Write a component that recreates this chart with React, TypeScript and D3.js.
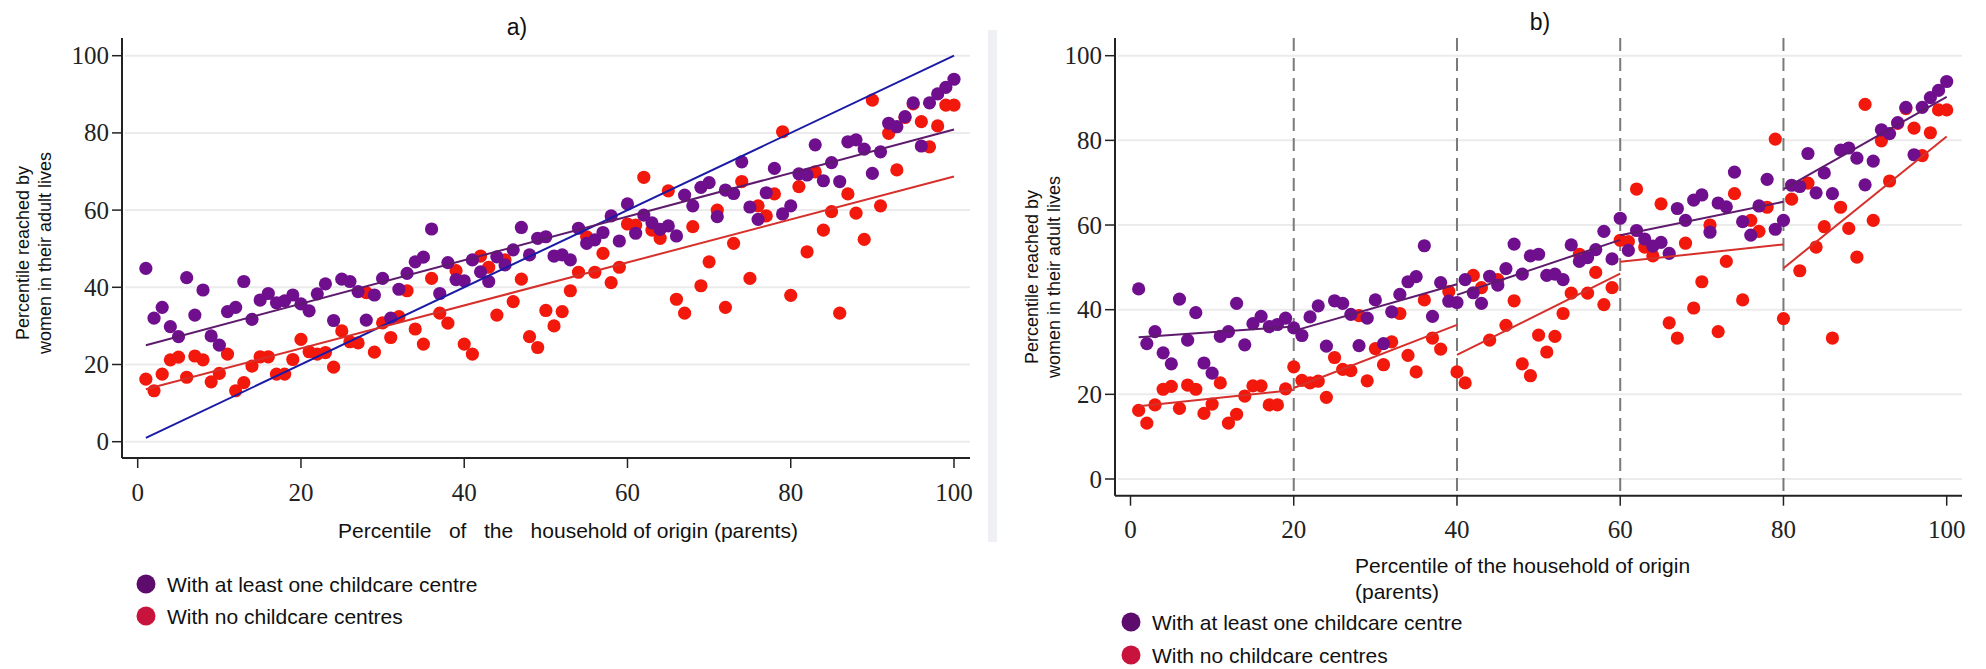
import React from 'react';
import * as d3 from 'd3';

// percentile of household of origin: 1..100
const percentiles = d3.range(1, 101);

// percentile reached, women from municipalities with at least one childcare centre
const withCentre = [
  44.9, 32.0, 34.8, 29.8, 27.2, 42.5, 32.8, 39.3, 27.4, 25.0,
  33.7, 34.8, 41.5, 31.7, 36.7, 38.4, 36.0, 36.5, 38.0, 35.7,
  33.9, 38.3, 40.9, 31.4, 42.1, 41.5, 38.9, 31.5, 38.0, 42.3,
  32.0, 39.5, 43.6, 46.6, 47.8, 55.1, 38.4, 46.4, 42.0, 41.7,
  47.1, 44.0, 41.5, 47.9, 45.8, 49.7, 55.5, 48.4, 52.7, 53.1,
  48.1, 48.4, 47.1, 55.3, 51.4, 52.3, 54.2, 58.5, 52.0, 61.6,
  54.0, 58.7, 56.7, 55.0, 55.9, 53.3, 63.9, 61.1, 65.9, 67.1,
  58.3, 65.2, 64.3, 72.5, 60.8, 57.6, 64.5, 70.8, 59.0, 61.1,
  69.4, 69.1, 76.9, 67.6, 72.3, 67.4, 77.7, 78.2, 75.8, 69.5,
  75.1, 82.5, 81.6, 84.2, 87.8, 76.6, 87.8, 90.1, 91.8, 93.9,
];

// percentile reached, women from municipalities with no childcare centres
const noCentre = [
  16.2, 13.2, 17.5, 21.2, 21.9, 16.7, 22.2, 21.2, 15.5, 17.7,
  22.7, 13.2, 15.3, 19.6, 22.0, 22.0, 17.5, 17.5, 21.3, 26.5,
  23.3, 22.7, 23.1, 19.3, 28.7, 25.9, 25.6, 38.6, 23.2, 30.8,
  27.0, 32.4, 39.1, 29.2, 25.3, 42.3, 33.3, 30.7, 44.3, 25.3,
  22.7, 48.1, 45.2, 32.8, 47.1, 36.3, 42.1, 27.2, 24.4, 34.0,
  30.0, 33.7, 39.1, 43.9, 53.1, 43.9, 48.8, 41.2, 45.2, 56.4,
  56.1, 68.5, 54.8, 52.7, 65.0, 36.9, 33.3, 55.7, 40.4, 46.6,
  60.0, 34.8, 51.4, 67.4, 42.3, 61.1, 58.5, 64.2, 80.3, 37.9,
  66.1, 49.2, 69.9, 54.8, 59.6, 33.3, 64.2, 59.2, 52.4, 88.5,
  61.1, 79.9, 70.4, 84.0, 87.5, 82.9, 76.4, 81.8, 87.2, 87.2,
];

const ticks = [0, 20, 40, 60, 80, 100];
const cutoffs = [20, 40, 60, 80];

// linear fits (panel a): [x1, y1, x2, y2]
const fitWithA = [1, 25.0, 100, 80.9];
const fitNoA = [1, 13.6, 100, 68.7];
const diagonal = [1, 1, 100, 100];

// linear fits by quintile (panel b)
const fitWithB = [
  [1, 33.5, 20, 36.0],
  [20, 35.0, 40, 46.0],
  [40, 43.5, 60, 56.5],
  [60, 57.6, 80, 65.5],
  [80, 68.5, 100, 90.3],
];
const fitNoB = [
  [1, 17.2, 20, 21.0],
  [20, 21.5, 40, 36.4],
  [40, 29.3, 60, 48.5],
  [60, 51.3, 80, 55.4],
  [80, 49.8, 100, 80.9],
];

const legendLabels = ['With at least one childcare centre', 'With no childcare centres'];

const PURPLE = '#6f0f8e';
const RED = '#f3180c';
const serif = '"Liberation Serif", "Times New Roman", serif';
const sans = '"Liberation Sans", Arial, sans-serif';

function Panel({ x, y, axisLeft, axisTop, axisRight, axisBottom, dashed, children }) {
  return (
    <g>
      {/* grid */}
      {ticks.map((t) => (
        <line key={'g' + t} x1={axisLeft + 3} x2={axisRight} y1={y(t)} y2={y(t)} stroke="#ebebeb" strokeWidth={2} />
      ))}
      {dashed &&
        cutoffs.map((c) => (
          <line key={'d' + c} x1={x(c)} x2={x(c)} y1={axisTop} y2={axisBottom} stroke="#7a7a7a" strokeWidth={2} strokeDasharray="13,7" />
        ))}
      {children}
      {/* axes */}
      <line x1={axisLeft} x2={axisLeft} y1={axisTop} y2={axisBottom} stroke="#222" strokeWidth={2} />
      <line x1={axisLeft} x2={axisRight} y1={axisBottom} y2={axisBottom} stroke="#222" strokeWidth={2} />
      {ticks.map((t) => (
        <g key={'y' + t}>
          <line x1={axisLeft - 10} x2={axisLeft} y1={y(t)} y2={y(t)} stroke="#222" strokeWidth={1.5} />
          <text x={axisLeft - 13} y={y(t)} textAnchor="end" dominantBaseline="central" fontFamily={serif} fontSize={25} fill="#222">
            {t}
          </text>
        </g>
      ))}
      {ticks.map((t) => (
        <g key={'x' + t}>
          <line x1={x(t)} x2={x(t)} y1={axisBottom} y2={axisBottom + 10} stroke="#222" strokeWidth={1.5} />
          <text x={x(t)} y={axisBottom + 34} textAnchor="middle" dominantBaseline="central" fontFamily={serif} fontSize={25} fill="#222">
            {t}
          </text>
        </g>
      ))}
    </g>
  );
}

function Points({ x, y }) {
  return (
    <g>
      {percentiles.map((p, i) => (
        <circle key={'n' + p} cx={x(p)} cy={y(noCentre[i])} r={6.6} fill={RED} />
      ))}
      {percentiles.map((p, i) => (
        <circle key={'w' + p} cx={x(p)} cy={y(withCentre[i])} r={6.6} fill={PURPLE} />
      ))}
    </g>
  );
}

function Seg({ x, y, d, color }) {
  return <line x1={x(d[0])} y1={y(d[1])} x2={x(d[2])} y2={y(d[3])} stroke={color} strokeWidth={2} />;
}

function YTitle({ cx, cy }) {
  return (
    <text transform={`translate(${cx},${cy}) rotate(-90)`} textAnchor="middle" fontFamily={sans} fontSize={18} fill="#111">
      <tspan x={0} dy={-4}>Percentile reached by</tspan>
      <tspan x={0} dy={22}>women in their adult lives</tspan>
    </text>
  );
}

function Legend({ x, y, gap }) {
  const colors = ['#5e0b6e', '#c8143c'];
  return (
    <g>
      {legendLabels.map((l, i) => (
        <g key={l}>
          <circle cx={x} cy={y + i * gap} r={9.5} fill={colors[i]} />
          <text x={x + 21} y={y + i * gap} dominantBaseline="central" fontFamily={sans} fontSize={21} fill="#111">
            {l}
          </text>
        </g>
      ))}
    </g>
  );
}

export default function App() {
  const xa = d3.scaleLinear().domain([0, 100]).range([137.7, 954]);
  const ya = d3.scaleLinear().domain([0, 100]).range([441.7, 55.7]);
  const xb = d3.scaleLinear().domain([0, 100]).range([1130.5, 1946.7]);
  const yb = d3.scaleLinear().domain([0, 100]).range([479, 55.7]);

  return (
    <svg width={1986} height={669} style={{ position: 'absolute', left: 0, top: 0, background: '#fff' }}>
      <rect x={988} y={30} width={9} height={512} fill="#eef0f3" />

      {/* panel a */}
      <text x={517} y={27} textAnchor="middle" dominantBaseline="central" fontFamily={sans} fontSize={23} fill="#111">a)</text>
      <Panel x={xa} y={ya} axisLeft={122} axisTop={38} axisRight={970} axisBottom={458}>
        <Points x={xa} y={ya} />
        <Seg x={xa} y={ya} d={diagonal} color="#1a1aa6" />
        <Seg x={xa} y={ya} d={fitWithA} color="#5e1a6c" />
        <Seg x={xa} y={ya} d={fitNoA} color="#d6302c" />
      </Panel>
      <YTitle cx={33} cy={253} />
      <text x={338} y={530} dominantBaseline="central" fontFamily={sans} fontSize={21} fill="#111" style={{ whiteSpace: 'pre' }}>
        {'Percentile   of   the   household of origin (parents)'}
      </text>
      <Legend x={146} y={584} gap={32} />

      {/* panel b */}
      <text x={1540} y={22} textAnchor="middle" dominantBaseline="central" fontFamily={sans} fontSize={23} fill="#111">b)</text>
      <Panel x={xb} y={yb} axisLeft={1115} axisTop={38} axisRight={1962} axisBottom={495.7} dashed>
        <Points x={xb} y={yb} />
        {fitWithB.map((d, i) => (
          <Seg key={'wb' + i} x={xb} y={yb} d={d} color="#5e1a6c" />
        ))}
        {fitNoB.map((d, i) => (
          <Seg key={'nb' + i} x={xb} y={yb} d={d} color="#d6302c" />
        ))}
      </Panel>
      <YTitle cx={1042} cy={277} />
      <text fontFamily={sans} fontSize={21} fill="#111">
        <tspan x={1355} y={565} dominantBaseline="central">Percentile of the household of origin</tspan>
        <tspan x={1355} y={591} dominantBaseline="central">(parents)</tspan>
      </text>
      <Legend x={1131} y={622} gap={33} />
    </svg>
  );
}
